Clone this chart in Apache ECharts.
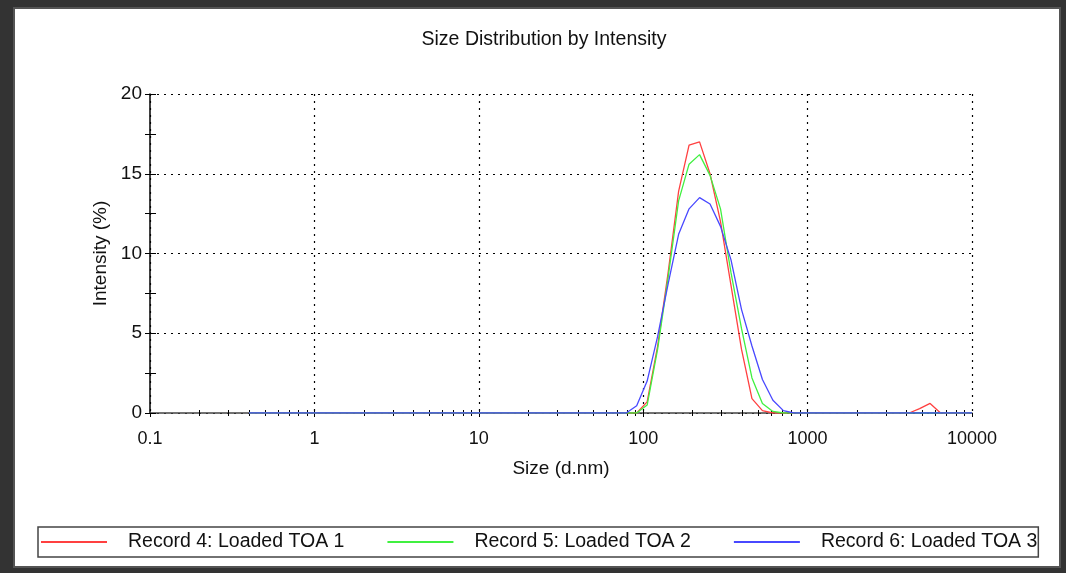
<!DOCTYPE html>
<html>
<head>
<meta charset="utf-8">
<script src="https://cdn.jsdelivr.net/npm/echarts@6/dist/echarts.min.js"></script>
<style>
  html, body { margin: 0; padding: 0; background: #333; }
  #chart { width: 1066px; height: 573px; }
</style>
</head>
<body>
<div id="chart"></div>
<script>
// size bins (d.nm), log spaced 0.4 .. 10000
const sizes = [
  0.4, 0.4632, 0.5365, 0.6213, 0.7195, 0.8332, 0.9649, 1.117, 1.294, 1.499,
  1.736, 2.01, 2.328, 2.696, 3.122, 3.615, 4.187, 4.849, 5.615, 6.503,
  7.531, 8.721, 10.1, 11.7, 13.54, 15.69, 18.17, 21.04, 24.36, 28.21,
  32.67, 37.84, 43.82, 50.75, 58.77, 68.06, 78.82, 91.28, 105.7, 122.4,
  141.8, 164.2, 190.1, 220.2, 255.0, 295.3, 342.0, 396.1, 458.7, 531.2,
  615.1, 712.4, 825.0, 955.4, 1106, 1281, 1484, 1718, 1990, 2305,
  2669, 3091, 3580, 4145, 4801, 5560, 6439, 7456, 8635, 10000
];

const record4 = [
  0, 0, 0, 0, 0, 0, 0, 0, 0, 0,
  0, 0, 0, 0, 0, 0, 0, 0, 0, 0,
  0, 0, 0, 0, 0, 0, 0, 0, 0, 0,
  0, 0, 0, 0, 0, 0, 0, 0, 0.7, 4.2,
  8.8, 13.9, 16.8, 17.0, 15.0, 12.0, 8.0, 4.0, 0.9, 0.15,
  0, 0, 0, 0, 0, 0, 0, 0, 0, 0,
  0, 0, 0, 0, 0.27, 0.6, 0, 0, 0, 0
];
const record5 = [
  0, 0, 0, 0, 0, 0, 0, 0, 0, 0,
  0, 0, 0, 0, 0, 0, 0, 0, 0, 0,
  0, 0, 0, 0, 0, 0, 0, 0, 0, 0,
  0, 0, 0, 0, 0, 0, 0, 0, 0.5, 4.0,
  8.5, 13.3, 15.6, 16.2, 14.9, 12.8, 8.8, 5.3, 2.2, 0.6,
  0.1, 0, 0, 0, 0, 0, 0, 0, 0, 0,
  0, 0, 0, 0, 0, 0, 0, 0, 0, 0
];
const record6 = [
  0, 0, 0, 0, 0, 0, 0, 0, 0, 0,
  0, 0, 0, 0, 0, 0, 0, 0, 0, 0,
  0, 0, 0, 0, 0, 0, 0, 0, 0, 0,
  0, 0, 0, 0, 0, 0, 0, 0.45, 2.0, 4.8,
  8.1, 11.2, 12.8, 13.5, 13.1, 11.7, 9.6, 6.5, 4.2, 2.1,
  0.8, 0.15, 0, 0, 0, 0, 0, 0, 0, 0,
  0, 0, 0, 0, 0, 0, 0, 0, 0, 0
];

const names = ["Record 4: Loaded TOA 1", "Record 5: Loaded TOA 2", "Record 6: Loaded TOA 3"];
const colors = ["#ff4040", "#40f040", "#4848ff"];

// axis ticks
const xLabels = [0.1, 1, 10, 100, 1000, 10000];
const xMinorTicks = [
  0.2, 0.3, 0.4, 0.5, 0.6, 0.7, 0.8, 0.9, 1,
  2, 3, 4, 5, 6, 7, 8, 9, 10,
  20, 30, 40, 50, 60, 70, 80, 90, 100,
  200, 300, 400, 500, 600, 700, 800, 900, 1000,
  2000, 3000, 4000, 5000, 6000, 7000, 8000, 9000
];

const chart = echarts.init(document.getElementById("chart"));
const font = "'Liberation Sans', Arial, sans-serif";
const dotted = { color: "#000", width: 1.2, type: [2, 5] };

function pairs(vals) {
  return sizes.map((s, i) => [s, vals[i]]);
}

const series = [record4, record5, record6].map((v, i) => ({
  name: names[i],
  type: "line",
  xAxisIndex: 0,
  yAxisIndex: 0,
  data: pairs(v),
  showSymbol: false,
  symbol: "none",
  lineStyle: { color: colors[i], width: 1.3 },
  itemStyle: { color: colors[i] },
  z: 5 + i
}));

const xCommon = {
  type: "log",
  logBase: 10,
  min: 0.1,
  max: 10000,
  position: "bottom",
  axisLine: { onZero: false }
};

const option = {
  backgroundColor: "#333",
  animation: false,
  textStyle: { fontFamily: font },
  graphic: [{
    type: "rect",
    shape: { x: 14, y: 8, width: 1046, height: 559 },
    style: { fill: "#fff", stroke: "#555", lineWidth: 2 },
    z: -10
  }],
  title: {
    text: "Size Distribution by Intensity",
    left: 539,
    textAlign: "center",
    top: 25,
    textStyle: { fontFamily: font, fontSize: 19.5, fontWeight: "normal", color: "#111" }
  },
  legend: {
    data: names,
    left: 38,
    top: 527,
    orient: "horizontal",
    icon: "rect",
    itemWidth: 66,
    itemHeight: 2,
    itemGap: 43,
    padding: [5, 1, 5, 3],
    borderColor: "#444",
    borderWidth: 1.5,
    textStyle: { fontFamily: font, fontSize: 19.5, color: "#111", padding: [0, 0, 0, 16] }
  },
  grid: { left: 150, top: 94, width: 822, height: 319 },
  xAxis: [
    Object.assign({}, xCommon, {
      name: "Size (d.nm)",
      nameLocation: "middle",
      nameGap: 46,
      nameTextStyle: { fontFamily: font, fontSize: 19, color: "#111" },
      axisLine: { onZero: false, lineStyle: { color: "#444", width: 1.5 } },
      axisTick: { show: true, length: 4, lineStyle: { color: "#000" } },
      axisLabel: {
        customValues: xLabels,
        margin: 17,
        fontFamily: font,
        fontSize: 18,
        color: "#111",
        formatter: function (v) {
          const k = xLabels.findIndex(t => Math.abs(Math.log10(t) - Math.log10(v)) < 1e-6);
          return k >= 0 ? String(xLabels[k]) : "";
        }
      },
      splitLine: { show: true, lineStyle: dotted }
    }),
    Object.assign({}, xCommon, {
      axisLine: { show: false, onZero: false },
      axisLabel: { show: false },
      splitLine: { show: false },
      axisTick: { show: true, customValues: xMinorTicks, inside: true, length: 3, lineStyle: { color: "#000" } }
    }),
    Object.assign({}, xCommon, {
      axisLine: { show: false, onZero: false },
      axisLabel: { show: false },
      splitLine: { show: false },
      axisTick: { show: true, customValues: xMinorTicks, inside: false, length: 3, lineStyle: { color: "#000" } }
    })
  ],
  yAxis: [
    {
      type: "value",
      position: "left",
      min: 0,
      max: 20,
      interval: 5,
      name: "Intensity (%)",
      nameLocation: "middle",
      nameGap: 40,
      nameRotate: 90,
      nameTextStyle: { fontFamily: font, fontSize: 19, color: "#111" },
      axisLine: { show: true, lineStyle: { color: "#000", width: 1.5 } },
      axisTick: { show: false },
      axisLabel: { margin: 8, fontFamily: font, fontSize: 19, color: "#111" },
      splitLine: { show: true, lineStyle: dotted }
    },
    {
      type: "value",
      position: "left",
      min: 0,
      max: 20,
      interval: 2.5,
      axisLine: { show: false },
      axisLabel: { show: false },
      splitLine: { show: false },
      axisTick: { show: true, inside: false, length: 5, lineStyle: { color: "#000" } }
    },
    {
      type: "value",
      position: "left",
      min: 0,
      max: 20,
      interval: 2.5,
      axisLine: { show: false },
      axisLabel: { show: false },
      splitLine: { show: false },
      axisTick: { show: true, inside: true, length: 6, lineStyle: { color: "#000" } }
    }
  ],
  series: series
};

chart.setOption(option);
</script>
</body>
</html>
